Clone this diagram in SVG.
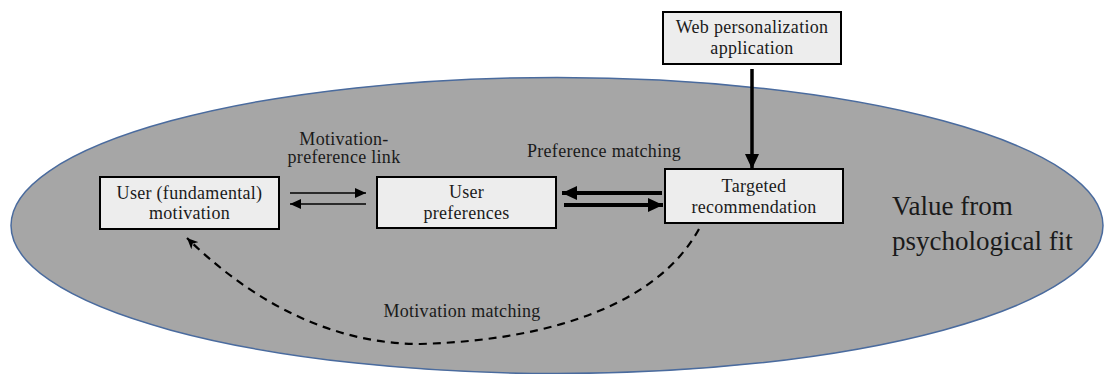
<svg xmlns="http://www.w3.org/2000/svg" width="1104" height="374" viewBox="0 0 1104 374">
<style>
.box{fill:#ededed;stroke:#000;stroke-width:2}
.t{font-family:"Liberation Serif","DejaVu Serif",serif;font-size:18px;letter-spacing:0.3px;fill:#1a1a1a;text-anchor:middle}
.big{font-family:"Liberation Serif","DejaVu Serif",serif;font-size:27px;fill:#1a1a1a}
.thin{stroke:#000;stroke-width:1.6;fill:none}
.thick{stroke:#000;stroke-width:4;fill:none}
</style>
<defs>
<marker id="ah" markerUnits="userSpaceOnUse" markerWidth="12" markerHeight="10" refX="11" refY="5" orient="auto">
<path d="M0,0 L11,5 L0,10 Z" fill="#000"/>
</marker>
<marker id="ahB" markerUnits="userSpaceOnUse" markerWidth="16" markerHeight="14" refX="15" refY="7" orient="auto">
<path d="M0,0 L15,7 L0,14 Z" fill="#000"/>
</marker>
<marker id="ahD" markerUnits="userSpaceOnUse" markerWidth="12" markerHeight="10" refX="11" refY="5" orient="auto">
<path d="M0,0 L11,5 L0,10 L3,5 Z" fill="#000"/>
</marker>
</defs>
<g id="background">
<ellipse cx="557" cy="225.5" rx="546" ry="148" fill="#a6a6a6" stroke="#4a6b9e" stroke-width="1.5"/>
<text class="big" x="892" y="215">Value from</text>
<text class="big" x="892" y="250">psychological fit</text>
</g>
<g id="connectors">
<line class="thin" x1="290" y1="193" x2="366" y2="193" marker-end="url(#ah)"/>
<line class="thin" x1="366" y1="204" x2="290" y2="204" marker-end="url(#ah)"/>
<line class="thick" x1="662" y1="193" x2="562" y2="193" marker-end="url(#ahB)"/>
<line class="thick" x1="564" y1="205" x2="663" y2="205" marker-end="url(#ahB)"/>
<line class="thick" x1="752" y1="69" x2="752" y2="169" style="stroke-width:3.5" marker-end="url(#ahB)"/>
<path d="M699,229 C660,300 560,340 420,344 C320,344 240,290 187,238" fill="none" stroke="#000" stroke-width="2.2" stroke-dasharray="8,6" marker-end="url(#ahD)"/>
<text class="t" x="344" y="145">Motivation-</text>
<text class="t" x="344" y="163">preference link</text>
<text class="t" x="604" y="157">Preference matching</text>
<text class="t" x="462" y="317">Motivation matching</text>
</g>
<g id="web-app">
<rect class="box" x="663" y="12" width="178" height="52"/>
<text class="t" x="752" y="33">Web personalization</text>
<text class="t" x="752" y="54">application</text>
</g>
<g id="targeted-recommendation">
<rect class="box" x="665" y="169" width="178" height="54"/>
<text class="t" x="754" y="192">Targeted</text>
<text class="t" x="754" y="213">recommendation</text>
</g>
<g id="user-preferences">
<rect class="box" x="377" y="177" width="179" height="51"/>
<text class="t" x="466.5" y="198">User</text>
<text class="t" x="466.5" y="219">preferences</text>
</g>
<g id="user-motivation">
<rect class="box" x="100" y="177" width="179" height="52"/>
<text class="t" x="189.5" y="199">User (fundamental)</text>
<text class="t" x="189.5" y="219">motivation</text>
</g>
</svg>
